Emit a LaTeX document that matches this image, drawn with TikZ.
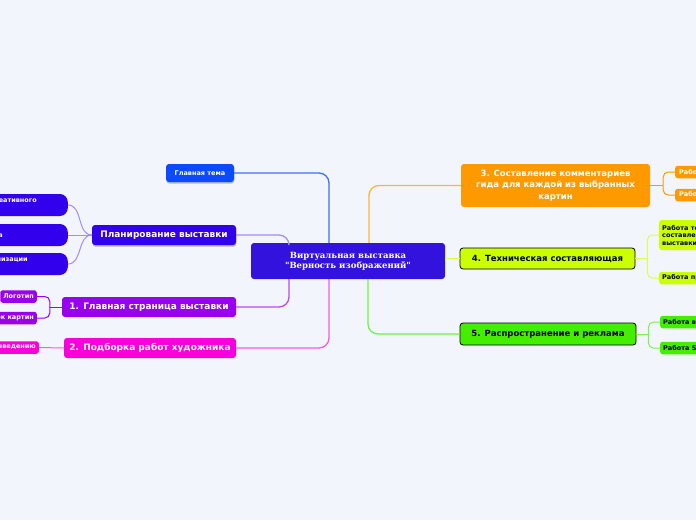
\documentclass[tikz,border=0pt]{standalone}
\usepackage{fontspec}
\setmainfont{DejaVu Sans}
\newfontfamily\rootfont{DejaVu Serif}
\usetikzlibrary{shadows}
\definecolor{bg-page}{HTML}{F3F5FD}
\definecolor{root-blue}{HTML}{3412DD}
\definecolor{topic-blue}{HTML}{0A4BFF}
\definecolor{plan-blue}{HTML}{3300EE}
\definecolor{page-violet}{HTML}{9900EE}
\definecolor{pick-magenta}{HTML}{F800DC}
\definecolor{guide-orange}{HTML}{FF9900}
\definecolor{tech-lime}{HTML}{CCFF00}
\definecolor{promo-green}{HTML}{44EE00}

\begin{document}
\begin{tikzpicture}[x=1pt, y=-1pt,
    every node/.style={inner sep=0pt, text=white,
      font=\bfseries\fontsize{6.5}{7.5}\selectfont},
    topic/.style={rounded corners=3pt, minimum height=20pt,
      font=\bfseries\fontsize{8.5}{11.5}\selectfont},
    leaf/.style={rounded corners=2.5pt, minimum height=12.5pt, inner xsep=3pt},
    planleaf/.style={fill=plan-blue, rounded corners=8pt, anchor=east,
      minimum height=22pt, text width=70pt, align=right},
    softshadow/.style={drop shadow={shadow xshift=0.4pt, shadow yshift=-1.6pt,
      fill=black!45, opacity=0.6}},
    link/.style={line width=1.3pt, rounded corners=10pt},
    twig/.style={line width=1pt, rounded corners=5pt}]
  \useasboundingbox (0,0) rectangle (696,520);
  \clip (0,0) rectangle (696,520);
  \fill[bg-page] (0,0) rectangle (696,520);

  % central topic
  \node[fill=root-blue, rounded corners=3pt, minimum width=194pt,
        minimum height=36pt, align=center,
        font=\rootfont\bfseries\fontsize{8.5}{10}\selectfont] (root) at (348,261)
        {Виртуальная выставка\\"Верность изображений"};

  % left branches
  \node[topic, fill=topic-blue, minimum width=68pt, minimum height=18pt,
        softshadow, font=\bfseries\fontsize{6.5}{7.5}\selectfont] (main) at (200,173) {Главная тема};
  \node[topic, fill=plan-blue, minimum width=144pt, softshadow,
        font=\bfseries\fontsize{9}{11}\selectfont] (plan) at (164,235) {Планирование выставки};
  \node[topic, fill=page-violet, minimum width=174pt,
        font=\bfseries\fontsize{9}{11}\selectfont] (home) at (149,307) {1. Главная страница выставки};
  \node[topic, fill=pick-magenta, minimum width=172pt,
        font=\bfseries\fontsize{9}{11}\selectfont] (pick) at (150,348) {2. Подборка работ художника};

  % right branches
  \node[topic, fill=guide-orange, minimum width=189pt, minimum height=43pt,
        align=center] (guide) at (555.5,185.5)
        {3. Составление комментариев\\гида для каждой из выбранных\\картин};
  \node[topic, fill=tech-lime, draw=black, line width=0.8pt, text=black,
        minimum width=175pt, minimum height=21pt] (tech) at (547.5,258.5) {4. Техническая составляющая};
  \node[topic, fill=promo-green, draw=black, line width=0.8pt, text=black,
        minimum width=176pt, minimum height=22pt] (promo) at (548,334) {5. Распространение и реклама};

  % leaves of the planning branch
  \node[planleaf, inner xsep=31pt, text depth=8pt] (plan-a) at (68,205) {креативного};
  \node[planleaf, inner xsep=65pt] (plan-b) at (68,235) {бюджета};
  \node[planleaf, inner xsep=40pt, text depth=8pt] (plan-c) at (68,264) {организации};

  % leaves of the home page branch
  \node[leaf, fill=page-violet, anchor=east] (logo) at (37,296.5) {Логотип};
  \node[leaf, fill=page-violet, anchor=east] (list) at (37,318) {Список картин};
  \node[leaf, fill=pick-magenta, anchor=east] (intro) at (39,347.5) {введению};

  % leaves on the right
  \node[leaf, fill=guide-orange, anchor=west, inner xsep=4pt] (guide-a) at (675,172) {Работа с текстами};
  \node[leaf, fill=guide-orange, anchor=west, inner xsep=4pt] (guide-b) at (675,195) {Работа с экспертами};
  \node[leaf, fill=tech-lime, anchor=west, text=black, align=left, minimum height=30pt]
        (tech-a) at (659,235) {Работа техника\\составление\\выставки};
  \node[leaf, fill=tech-lime, anchor=west, text=black] (tech-b) at (659,278) {Работа программиста};
  \node[leaf, fill=promo-green, anchor=west, text=black] (promo-a) at (660,322) {Работа в СМИ};
  \node[leaf, fill=promo-green, anchor=west, text=black] (promo-b) at (660,348) {Работа SMM};

  % attach points on the central topic
  \coordinate (root-nw) at ([xshift=-59pt]root.north);
  \coordinate (root-n) at ([xshift=-19pt]root.north);
  \coordinate (root-ne) at ([xshift=21pt]root.north);
  \coordinate (root-sw) at ([xshift=-59pt]root.south);
  \coordinate (root-s) at ([xshift=-19pt]root.south);
  \coordinate (root-se) at ([xshift=20pt]root.south);

  % main links
  \draw[link, topic-blue!80] (main.east) -| (root-n);
  \draw[link, plan-blue!45] (plan.east) -| (root-nw);
  \draw[link, page-violet!70] (home.east) -| (root-sw);
  \draw[link, pick-magenta!65] (pick.east) -| (root-s);
  \draw[link, guide-orange!75] (root-ne) |- (guide.west);
  \draw[link, tech-lime!70] (tech.west -| root.east) -- (tech.west);
  \draw[link, promo-green!75] (root-se) |- (promo.west);

  % leaf links
  \draw[twig, plan-blue!45] (plan-a.east) to[out=0, in=180] (plan.west);
  \draw[twig, plan-blue!45] (plan-b.east) -- (plan.west);
  \draw[twig, plan-blue!45] (plan-c.east) to[out=0, in=180] (plan.west);

  \coordinate (home-j) at ([xshift=-12pt]home.west);
  \draw[twig, page-violet] (home.west) -- (home-j);
  \draw[twig, page-violet] (home-j) |- (logo.east);
  \draw[twig, page-violet] (home-j) |- (list.east);
  \draw[twig, pick-magenta!65] (pick.west) -- (intro.east);

  \coordinate (guide-j) at ([xshift=13pt]guide.east);
  \draw[twig, guide-orange] (guide.east) -- (guide-j);
  \draw[twig, guide-orange] (guide-j) |- (guide-a.west);
  \draw[twig, guide-orange] (guide-j) |- (guide-b.west);

  \coordinate (tech-j) at ([xshift=12pt]tech.east);
  \draw[twig, tech-lime!70] (tech.east) -- (tech-j);
  \draw[twig, tech-lime!70] (tech-j) |- (tech-a.west);
  \draw[twig, tech-lime!70] (tech-j) |- (tech-b.west);

  \coordinate (promo-j) at ([xshift=12pt]promo.east);
  \draw[twig, promo-green!70] (promo.east) -- (promo-j);
  \draw[twig, promo-green!70] (promo-j) |- (promo-a.west);
  \draw[twig, promo-green!70] (promo-j) |- (promo-b.west);
\end{tikzpicture}
\end{document}
